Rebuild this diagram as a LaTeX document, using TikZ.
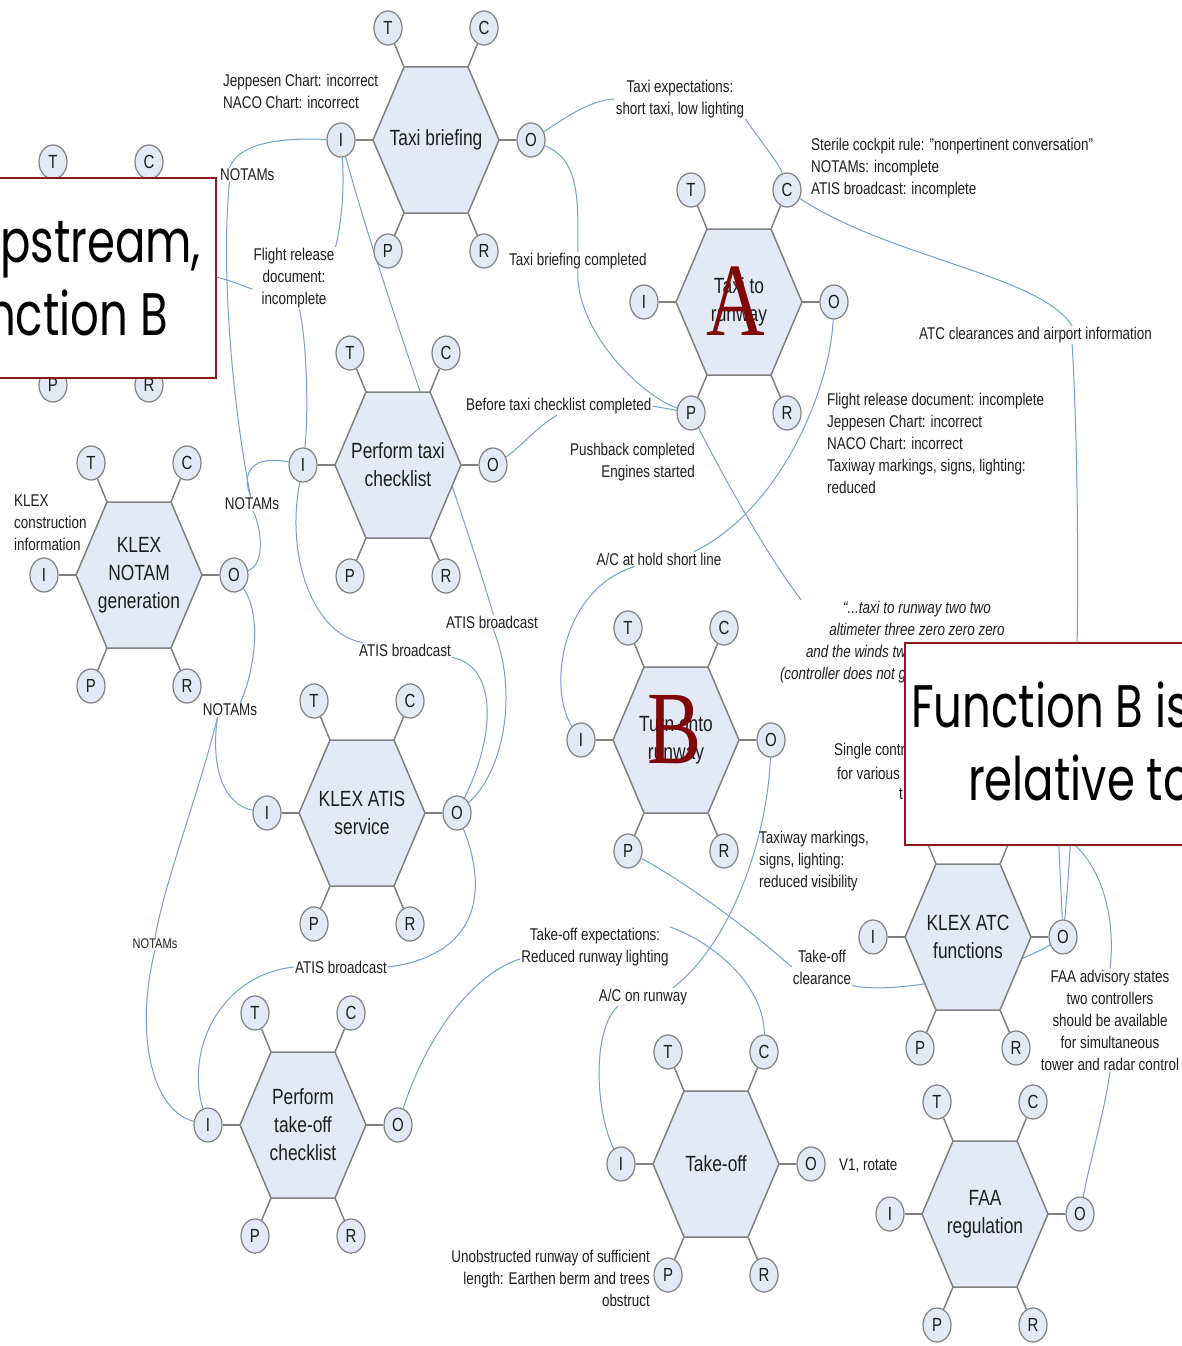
\documentclass[tikz,border=0pt]{standalone}
\usepackage{fontspec}
\setmainfont{Liberation Sans}[FakeStretch=0.79]
\newfontfamily\handfont{Poppins}[FakeStretch=0.75]
\newfontfamily\bigserif{Liberation Serif}[FakeStretch=0.78]
\usetikzlibrary{shapes.geometric}
\pgfdeclarelayer{bg}
\pgfdeclarelayer{front}
\pgfsetlayers{bg,main,front}

\definecolor{hexfill}{RGB}{227,234,246}
\definecolor{hexline}{RGB}{128,128,128}
\definecolor{linkblue}{RGB}{118,158,214}
\definecolor{ink}{RGB}{30,30,30}
\definecolor{boxred}{RGB}{140,25,25}
\definecolor{letterred}{RGB}{128,8,8}

\tikzset{
  hexbody/.style={fill=hexfill, draw=hexline, line width=1.5pt, line join=miter},
  hexlabel/.style={font=\fontsize{22}{28}\selectfont, align=center, text=ink, inner sep=0pt},
  sat/.style={ellipse, draw=hexline, fill=hexfill, line width=1.2pt, minimum width=28pt,
    minimum height=34pt, inner sep=0pt, font=\fontsize{19}{19}\selectfont, text=ink},
  stub/.style={draw=hexline, line width=1.5pt},
  flow/.style={draw=linkblue, line width=1pt},
  lbl/.style={font=\fontsize{17}{22}\selectfont, text=ink, inner sep=1pt},
  tinylbl/.style={font=\fontsize{14}{18}\selectfont, text=ink, inner sep=1pt},
  callout/.style={fill=white, draw=boxred, line width=2pt},
  handtxt/.style={font=\handfont\fontsize{60}{70}\selectfont, text=black, inner sep=0pt},
  bigletter/.style={font=\bigserif\fontsize{104}{104}\selectfont, text=letterred, inner sep=0pt}
}

% FRAM function: hexagon with its six aspects (T, C, I, O, P, R)
\newcommand{\framfn}[4]{%
  \begin{scope}[shift={(#2,#3)}]
    \path[hexbody] (-63,0) -- (-32,-73) -- (32,-73) -- (63,0) -- (32,73) -- (-32,73) -- cycle;
    \node[hexlabel] (#1) at (0,0) {#4};
    \coordinate (#1-tl) at (-32,-73);
    \coordinate (#1-tr) at (32,-73);
    \coordinate (#1-l) at (-63,0);
    \coordinate (#1-r) at (63,0);
    \coordinate (#1-bl) at (-32,73);
    \coordinate (#1-br) at (32,73);
    \node[sat] (#1-T) at (-48,-112) {T};
    \node[sat] (#1-C) at (48,-112) {C};
    \node[sat] (#1-I) at (-95,0) {I};
    \node[sat] (#1-O) at (95,0) {O};
    \node[sat] (#1-P) at (-48,111) {P};
    \node[sat] (#1-R) at (48,111) {R};
    \draw[stub] (#1-T) -- (#1-tl);
    \draw[stub] (#1-C) -- (#1-tr);
    \draw[stub] (#1-I) -- (#1-l);
    \draw[stub] (#1-O) -- (#1-r);
    \draw[stub] (#1-P) -- (#1-bl);
    \draw[stub] (#1-R) -- (#1-br);
  \end{scope}}

\begin{document}
\begin{tikzpicture}[x=1pt, y=-1pt]
\useasboundingbox (0,0) rectangle (1182,1346);

% functions
\framfn{up}{101}{274}{}
\framfn{tb}{436}{140}{Taxi briefing}
\framfn{ttr}{739}{302}{Taxi to\\runway}
\framfn{tc}{398}{465}{Perform taxi\\checklist}
\framfn{kn}{139}{575}{KLEX\\NOTAM\\generation}
\framfn{tor}{676}{740}{Turn onto\\runway}
\framfn{ks}{362}{813}{KLEX ATIS\\service}
\framfn{atc}{968}{937}{KLEX ATC\\functions}
\framfn{tkc}{303}{1125}{Perform\\take-off\\checklist}
\framfn{to}{716}{1164}{Take-off}
\framfn{faa}{985}{1214}{FAA\\regulation}

% aspect labels
\node[lbl, anchor=west, align=left] (L1) at (222,91) {Jeppesen Chart: incorrect\\NACO Chart: incorrect};
\node[lbl, align=center] (L2) at (680,99) {Taxi expectations:\\short taxi, low lighting};
\node[lbl, anchor=west, align=left] (L3) at (810,168) {Sterile cockpit rule: "nonpertinent conversation"\\NOTAMs: incomplete\\ATIS broadcast: incomplete};
\node[lbl, anchor=west] (L4) at (508,261) {Taxi briefing completed};
\node[lbl, anchor=west] (L5) at (918,335) {ATC clearances and airport information};
\node[lbl, anchor=west, align=left] (L6) at (826,443) {Flight release document: incomplete\\Jeppesen Chart: incorrect\\NACO Chart: incorrect\\Taxiway markings, signs, lighting:\\reduced};
\node[lbl, anchor=west] (L7) at (465,406) {Before taxi checklist completed};
\node[lbl, anchor=east, align=right] (L8) at (696,462) {Pushback completed\\Engines started};
\node[lbl, align=center] (L9) at (294,278) {Flight release\\document:\\incomplete};
\node[lbl, anchor=west] (L10) at (219,175) {NOTAMs};
\node[lbl] (L11) at (252,504) {NOTAMs};
\node[lbl, anchor=west, align=left] (L12) at (13,523) {KLEX\\construction\\information};
\node[lbl] (L13) at (230,710) {NOTAMs};
\node[lbl] (L14) at (492,622) {ATIS broadcast};
\node[lbl] (L15) at (405,650) {ATIS broadcast};
\node[lbl] (L16) at (659,559) {A/C at hold short line};
\node[lbl, font=\itshape\fontsize{17}{22}\selectfont, align=center] (q) at (917,642)
  {“...taxi to runway two two\\altimeter three zero zero zero\\\makebox[222pt][l]{and the winds tw}\\\makebox[274pt][l]{(controller does not g}};
\node[lbl, anchor=west] (L18a) at (833,751) {Single contr};
\node[lbl, anchor=west] (L18b) at (836,773) {for various};
\node[lbl, anchor=west] (L18c) at (898,794) {t};
\node[lbl, anchor=west, align=left] (L19) at (758,861) {Taxiway markings,\\signs, lighting:\\reduced visibility};
\node[tinylbl] (L20) at (155,944) {NOTAMs};
\node[lbl] (L21) at (341,967) {ATIS broadcast};
\node[lbl, align=center] (L22) at (595,947) {Take-off expectations:\\Reduced runway lighting};
\node[lbl] (L23) at (643,997) {A/C on runway};
\node[lbl, align=center] (L24) at (822,967) {Take-off\\clearance};
\node[lbl, align=center] (L25) at (1110,1020) {FAA advisory states\\two controllers\\should be available\\for simultaneous\\tower and radar control};
\node[lbl, anchor=west] (L26) at (838,1166) {V1, rotate};
\node[lbl, anchor=east, align=right] (L27) at (651,1278) {Unobstructed runway of sufficient\\length: Earthen berm and trees\\obstruct};

% couplings between functions
\begin{pgfonlayer}{bg}
\fill[white] (0,0) rectangle (1182,1346);
% Taxi briefing outputs
\draw[flow] (tb-O) .. controls (565,118) and (590,100) .. (L2.west);
\draw[flow] (L2.south east) .. controls (760,140) and (780,165) .. (ttr-C);
\draw[flow] (tb-O) .. controls (580,160) and (578,200) .. (L4.north);
\draw[flow] (L4.south) .. controls (575,330) and (640,395) .. (ttr-P);
% ATC functions to Taxi to runway
\draw[flow] (ttr-C) .. controls (890,258) and (1040,275) .. (L5.14);
\draw[flow] (L5.-14) .. controls (1082,520) and (1078,780) .. (atc-O);
\draw[flow] (ttr-P) .. controls (725,480) and (770,560) .. (q.160);
\draw[flow] (q.east) .. controls (1050,700) and (1058,820) .. (atc-O);
% Taxi to runway to Turn onto runway
\draw[flow] (ttr-O) .. controls (830,390) and (780,510) .. (L16.12);
\draw[flow] (L16.-163) .. controls (560,590) and (548,690) .. (tor-I);
% Perform taxi checklist to Taxi to runway
\draw[flow] (tc-O) .. controls (520,448) and (535,428) .. (L7.-100);
\draw[flow] (L7.east) -- (ttr-P);
% NOTAM generation outputs
\draw[flow] (kn-O) .. controls (265,565) and (262,530) .. (L11.-80);
\draw[flow] (L11.100) .. controls (240,470) and (255,455) .. (tc-I);
\draw[flow] (L11.100) .. controls (235,420) and (220,280) .. (L10.-158);
\draw[flow] (L10.158) .. controls (240,140) and (290,138) .. (tb-I);
\draw[flow] (kn-O) .. controls (262,615) and (255,670) .. (L13.35);
\draw[flow] (L13.-150) .. controls (210,770) and (225,805) .. (ks-I);
\draw[flow] (L13.-150) .. controls (200,790) and (165,880) .. (L20.north);
\draw[flow] (L20.south) .. controls (135,1030) and (150,1110) .. (tkc-I);
% flight release document
\draw[flow] (tb-I) .. controls (345,195) and (340,230) .. (L9.north east);
\draw[flow] (up-O) .. controls (225,278) and (240,285) .. (L9.-165);
\draw[flow] (L9.-80) .. controls (308,350) and (308,420) .. (tc-I);
% ATIS broadcasts
\draw[flow] (tb-I) .. controls (385,300) and (460,500) .. (L14.80);
\draw[flow] (L14.-80) .. controls (518,690) and (505,770) .. (ks-O);
\draw[flow] (ks-O) .. controls (498,730) and (495,665) .. (L15.south east);
\draw[flow] (L15.170) .. controls (315,635) and (285,560) .. (tc-I);
\draw[flow] (ks-O) .. controls (488,890) and (480,955) .. (L21.east);
\draw[flow] (L21.west) .. controls (220,975) and (185,1050) .. (tkc-I);
% take-off
\draw[flow] (tkc-O) .. controls (425,1040) and (470,975) .. (L22.-171);
\draw[flow] (L22.north east) .. controls (720,945) and (765,990) .. (to-C);
\draw[flow] (tor-O) .. controls (768,830) and (735,940) .. (L23.17);
\draw[flow] (L23.-160) .. controls (592,1030) and (595,1110) .. (to-I);
\draw[flow] (tor-P) .. controls (690,885) and (750,930) .. (L24.west);
\draw[flow] (atc-O) .. controls (1000,975) and (890,995) .. (L24.south east);
% FAA regulation
\draw[flow] (faa-O) .. controls (1090,1160) and (1105,1110) .. (L25.south);
\draw[flow] (L25.north) .. controls (1118,900) and (1090,830) .. (atc-C);
\end{pgfonlayer}

% callouts and function markers
\begin{pgfonlayer}{front}
\begin{scope}
\clip (0,0) rectangle (1182,1346);
\path[callout] (-5,178) rectangle (216,378);
\node[handtxt, anchor=base east] (up1) at (201,262) {upstream,};
\node[handtxt, anchor=base east] (up2) at (168,335) {nction B};
\path[callout] (905,643) rectangle (1195,845);
\node[handtxt, anchor=base west] (dn1) at (911,727) {Function B is};
\node[handtxt, anchor=base west] (dn2) at (968,800) {relative to};
\end{scope}
\node[bigletter, anchor=base] (markA) at (736,335) {A};
\node[bigletter, anchor=base] (markB) at (675,763) {B};
\end{pgfonlayer}
\end{tikzpicture}
\end{document}
